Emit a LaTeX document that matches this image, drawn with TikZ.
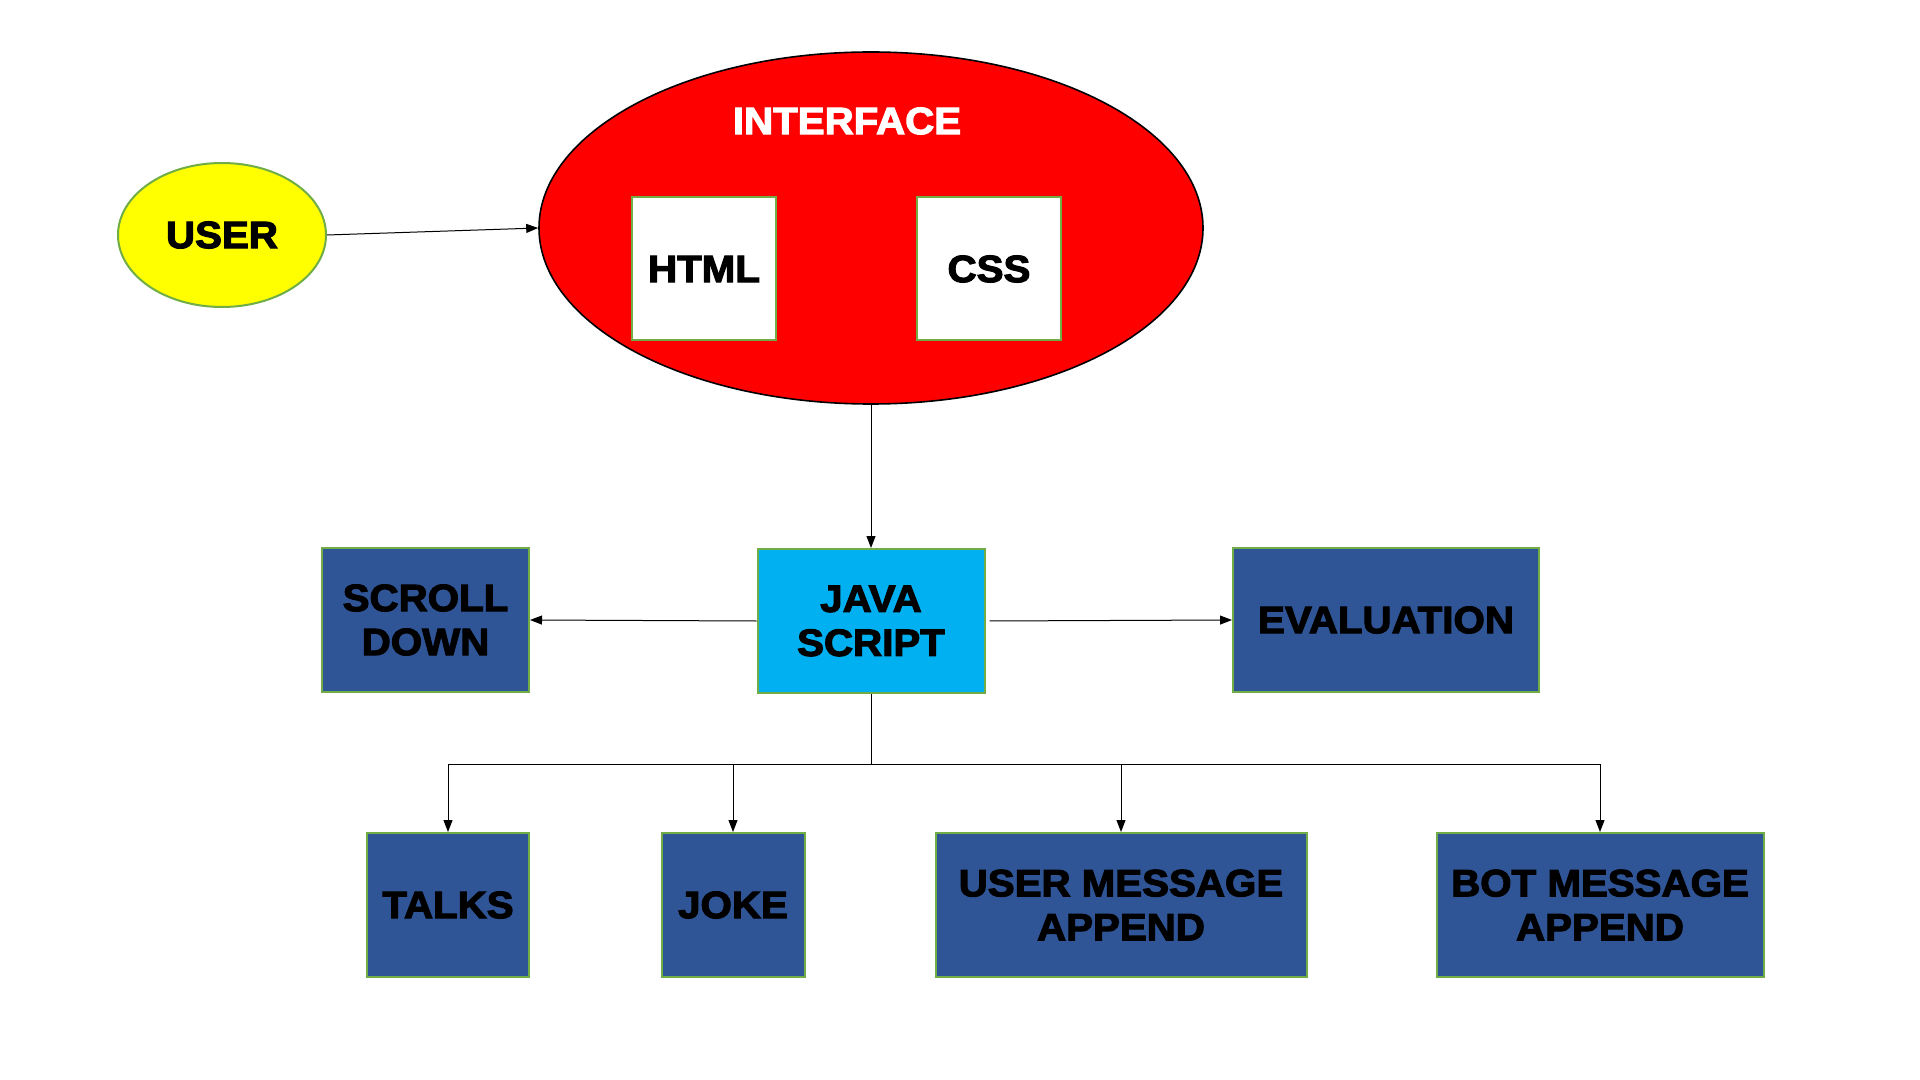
\documentclass[tikz,border=0pt]{standalone}
\usepackage{fontspec}
\setmainfont{Liberation Sans}
\newfontfamily\heavyfont[FakeBold=3,FakeStretch=1.06]{Liberation Sans Bold}
\usetikzlibrary{arrows.meta,shapes.geometric}
\definecolor{ifacered}{HTML}{FF0000}
\definecolor{useryellow}{HTML}{FFFF00}
\definecolor{jscyan}{HTML}{00B0F0}
\definecolor{boxblue}{HTML}{2F5597}
\definecolor{boxgreen}{HTML}{70AD47}
\tikzset{
  boxtext/.style={font=\heavyfont\fontsize{19}{21}\selectfont, align=center, inner sep=0pt},
  bluebox/.style={boxtext, rectangle, draw=boxgreen, line width=1pt, fill=boxblue, minimum height=72pt},
  whitebox/.style={boxtext, rectangle, draw=boxgreen, line width=1pt, fill=white, minimum width=72pt, minimum height=71.5pt},
  link/.style={line width=0.5pt, >={Triangle[length=6pt,width=4.5pt]}}
}
\begin{document}
\begin{tikzpicture}[x=0.5pt, y=-0.5pt]
    \useasboundingbox[fill=white] (0,0) rectangle (1920,1080);
    \node[ellipse, draw=boxgreen, line width=1pt, fill=useryellow, boxtext, minimum width=104pt, minimum height=72pt] (user) at (222,235) {USER};
    \node[ellipse, draw=black, line width=0.8pt, fill=ifacered, inner sep=0pt, minimum width=332pt, minimum height=176pt] (iface) at (871,228) {};
    \node[boxtext, text=white] (ifacetitle) at (847,121) {INTERFACE};
    \node[whitebox] (html) at (704,269) {HTML};
    \node[whitebox] (css) at (989,269) {CSS};
    \node[bluebox, fill=jscyan, minimum width=113.5pt] (js) at (871,621) {JAVA\\[1pt]SCRIPT};
    \node[bluebox, minimum width=103.5pt] (scroll) at (425.5,620) {SCROLL\\[1pt]DOWN};
    \node[bluebox, minimum width=153pt] (eval) at (1386,620) {EVALUATION};
    \node[bluebox, minimum width=81pt] (talks) at (448,905) {TALKS};
    \node[bluebox, minimum width=71.5pt] (joke) at (733,905) {JOKE};
    \node[bluebox, minimum width=185.5pt] (usermsg) at (1121,905) {USER MESSAGE\\[1pt]APPEND};
    \node[bluebox, minimum width=163.5pt] (botmsg) at (1600,905) {BOT MESSAGE\\[1pt]APPEND};
    \coordinate (bus) at (871,764);
    \draw[link, ->] (user.east) -- (iface.west);
    \draw[link, ->] (iface.south) -- (js.north);
    \draw[link, ->] (js.west) -- (scroll.east);
    \draw[link, ->, shorten <=2pt] (js.east) -- (eval.west);
    \draw[link] (js.south) -- (bus);
    \foreach \b in {talks,joke,usermsg,botmsg}
    \draw[link, ->] (bus) -| (\b.north);
\end{tikzpicture}
\end{document}
